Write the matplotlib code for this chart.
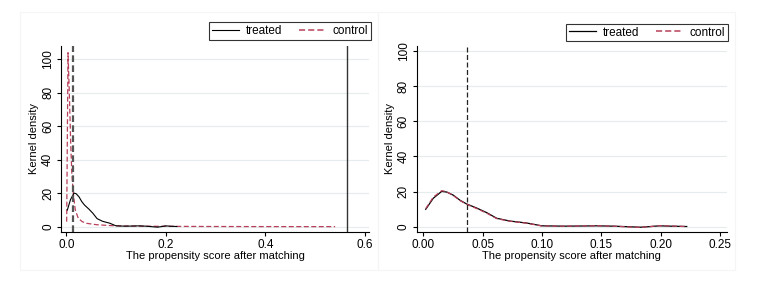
import matplotlib
matplotlib.use("Agg")
import matplotlib.pyplot as plt
from matplotlib.patches import Rectangle

plt.rcParams['font.family'] = ['Liberation Sans', 'DejaVu Sans']

# treated density (same sample in both panels)
treated_x = [0.002, 0.0084, 0.0155, 0.0197, 0.0253, 0.031, 0.0366, 0.045, 0.0534,
             0.0618, 0.073, 0.087, 0.0998, 0.118, 0.135, 0.146, 0.16, 0.172,
             0.183, 0.192, 0.199, 0.208, 0.222]
treated_y = [9.9, 16.2, 20.1, 19.7, 17.9, 15.0, 12.9, 10.6, 8.0,
             4.8, 3.2, 2.1, 0.5, 0.3, 0.4, 0.5, 0.3, 0.0,
             -0.3, 0.1, 0.5, 0.3, 0.1]

# control before matching (left panel)
control_l_x = [0.0007, 0.0034, 0.006, 0.0088, 0.011, 0.014, 0.018, 0.024, 0.032,
               0.041, 0.06, 0.08, 0.1, 0.15, 0.2, 0.3, 0.4, 0.54]
control_l_y = [3, 104, 80, 50, 32, 20, 10, 5, 3,
               2, 1.2, 0.8, 0.5, 0.3, 0.2, 0.1, 0.05, 0.02]

# control after matching (right panel)
control_r_x = [0.002, 0.0084, 0.0155, 0.0197, 0.0253, 0.031, 0.0366, 0.045, 0.0534,
               0.0618, 0.073, 0.087, 0.0998, 0.118, 0.135, 0.146, 0.16, 0.172,
               0.183, 0.192, 0.199, 0.208, 0.222]
control_r_y = [10.3, 16.8, 20.5, 19.9, 17.7, 14.8, 12.7, 10.3, 7.7,
               4.6, 3.1, 2.0, 0.4, 0.3, 0.4, 0.5, 0.3, -0.1,
               -0.4, 0.1, 0.6, 0.4, 0.1]

vline_left_dash = 0.0128
vline_left_solid = 0.563
vline_right_dash = 0.0366

W, H = 763, 285
fig = plt.figure(figsize=(W / 100, H / 100), dpi=100)
fig.patch.set_facecolor('white')

# faint panel frames
for x0, x1 in [(20, 378), (378, 735)]:
    fig.patches.append(Rectangle((x0 / W, 1 - 270 / H), (x1 - x0) / W, (270 - 12) / H,
                                 transform=fig.transFigure, fill=False,
                                 edgecolor='#f5f5f5', lw=0.8))

red = '#b8405a'
fs_tick = 8.5
fs_lab = 8
fs_leg = 8.5


def make_axes(l, r, t, b):
    ax = fig.add_axes([l / W, 1 - b / H, (r - l) / W, (b - t) / H])
    for s in ['top', 'right']:
        ax.spines[s].set_visible(False)
    ax.spines['left'].set_linewidth(0.8)
    ax.spines['bottom'].set_linewidth(0.8)
    ax.tick_params(labelsize=fs_tick, length=3, width=0.8, pad=2)
    ax.set_yticks([0, 20, 40, 60, 80, 100])
    for lab in ax.get_yticklabels():
        lab.set_rotation(90)
        lab.set_va('center')
    ax.grid(axis='y', color='#e4ecee', lw=0.8)
    ax.set_axisbelow(True)
    ax.set_ylabel('Kernel density', fontsize=fs_lab, labelpad=2)
    ax.set_xlabel('The propensity score after matching', fontsize=fs_lab, labelpad=0)
    return ax


# left panel
ax1 = make_axes(61, 369, 46, 231.7)
ax1.plot(control_l_x, control_l_y, color=red, lw=0.9, ls=(0, (4, 2)), label='control')
ax1.plot(treated_x, treated_y, color='black', lw=0.8, label='treated')
ax1.axvline(vline_left_dash, color='#555555', lw=1.6, ls=(0, (3, 1.5)))
ax1.axvline(vline_left_solid, color='#333333', lw=1.0)
ax1.set_xlim(-0.0107, 0.608)
ax1.set_ylim(-3, 108)
ax1.set_xticks([0, 0.2, 0.4, 0.6])
ax1.set_xticklabels(['0.0', '0.2', '0.4', '0.6'])

# right panel
ax2 = make_axes(416.7, 726.7, 46, 231.7)
ax2.plot(treated_x, treated_y, color='black', lw=0.9, label='treated')
ax2.plot(control_r_x, control_r_y, color=red, lw=0.9, ls=(0, (4, 2)), label='control')
ax2.axvline(vline_right_dash, color='#222222', lw=0.9, ls=(0, (4, 2)))
ax2.set_xlim(-0.0056, 0.2557)
ax2.set_ylim(-2.85, 102.8)
ax2.set_xticks([0, 0.05, 0.10, 0.15, 0.20, 0.25])
ax2.set_xticklabels(['0.00', '0.05', '0.10', '0.15', '0.20', '0.25'])

for ax, (l, r, t, b) in [(ax1, (215, 365, 23, 39)), (ax2, (571, 723, 24, 41))]:
    h, lbl = ax.get_legend_handles_labels()
    order = [lbl.index('treated'), lbl.index('control')]
    leg = fig.legend([h[i] for i in order], [lbl[i] for i in order],
                     loc='center', bbox_to_anchor=((l + r) / 2 / W, 1 - (t + b) / 2 / H),
                     ncol=2, fontsize=fs_leg, frameon=True, fancybox=False,
                     handlelength=2.3, handletextpad=0.6, columnspacing=1.4,
                     borderpad=0.25, borderaxespad=0)
    leg.get_frame().set_edgecolor('black')
    leg.get_frame().set_linewidth(0.8)
    leg.legend_handles[1].set_linewidth(1.1)

fig.savefig('out.png', dpi=100, facecolor='white')
